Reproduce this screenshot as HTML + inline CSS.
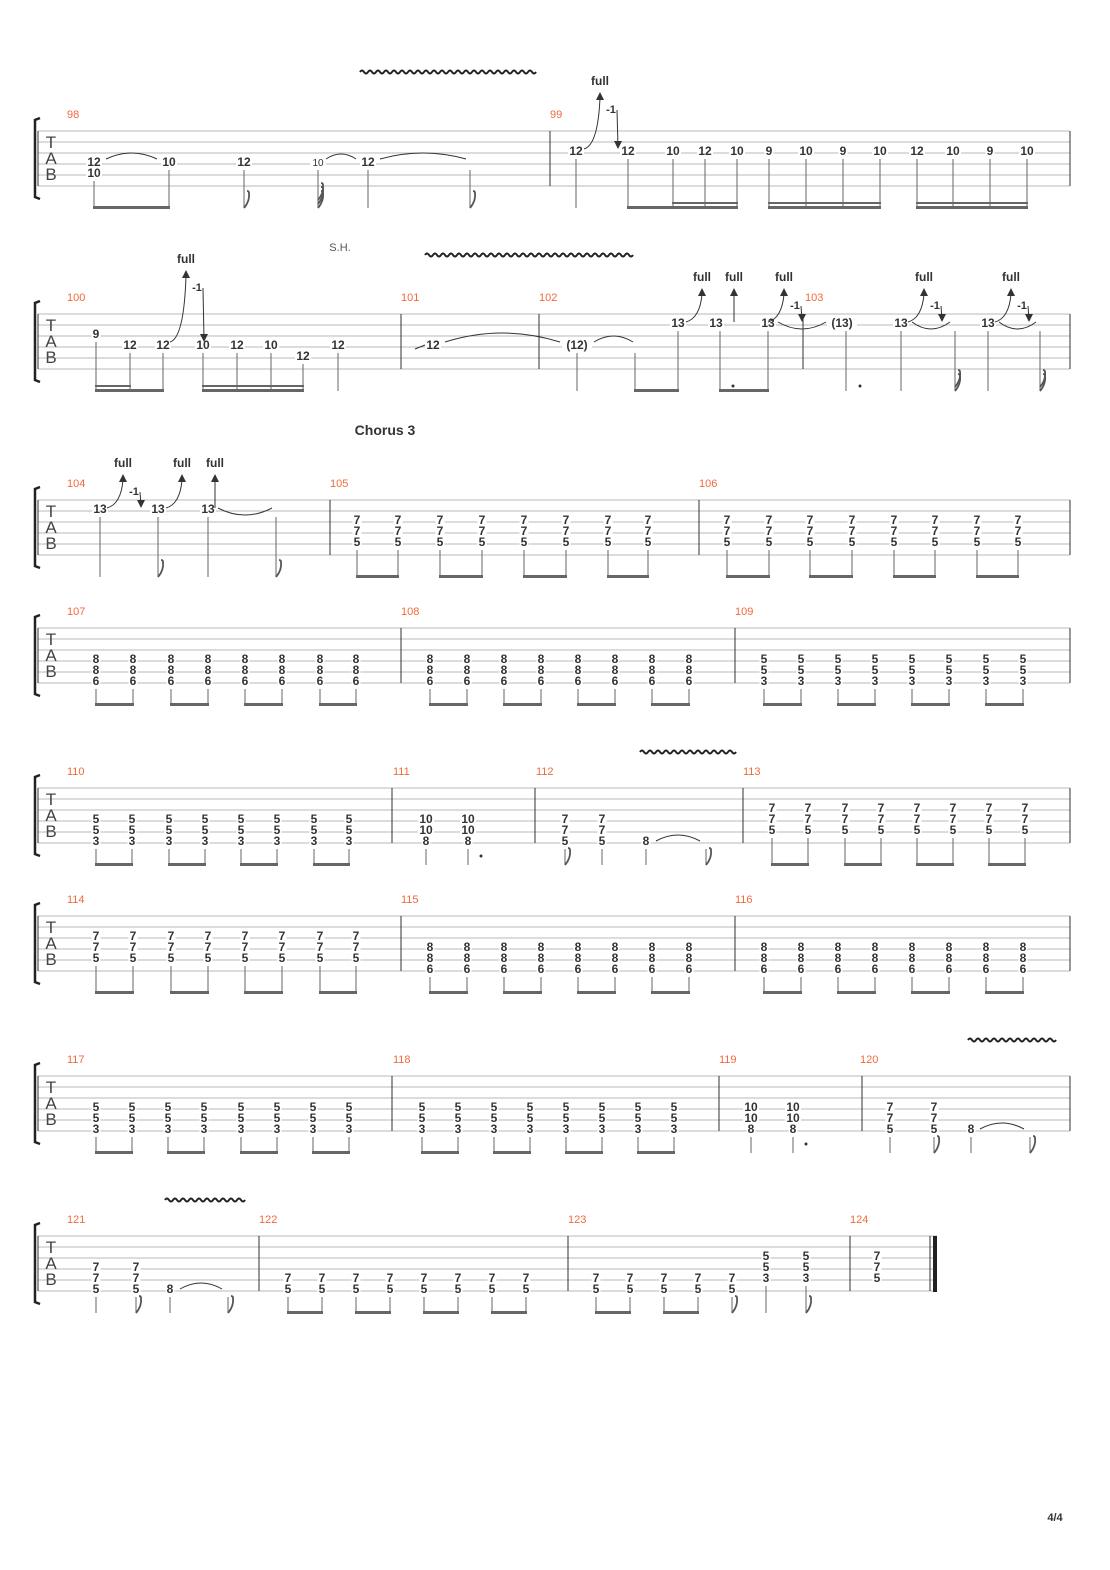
<!DOCTYPE html><html><head><meta charset="utf-8"><style>body{margin:0;background:#fff}svg{display:block}</style></head><body>
<svg id="s" width="1110" height="1570" xmlns="http://www.w3.org/2000/svg" font-family="Liberation Sans, DejaVu Sans, sans-serif"></svg>
<script>
const o=[];
function L(a,b,c,d,col,w){o.push(`<line x1="${a}" y1="${b}" x2="${c}" y2="${d}" stroke="${col||'#333'}" stroke-width="${w||1}"/>`);}
function T(x,y,t,sz,col,wt,anc){o.push(`<text x="${x}" y="${y}" font-size="${sz}" fill="${col||'#333'}" font-weight="${wt||'normal'}" text-anchor="${anc||'middle'}">${t}</text>`);}
function staff(t,x2,bars,labels){
 for(let i=0;i<6;i++)L(38,t+i*11,x2,t+i*11,'#b8b8b8');
 bars.forEach(b=>L(b,t,b,t+55,'#333'));
 T(51,t+17,'T',17,'#444');T(51,t+33,'A',17,'#444');T(51,t+49,'B',17,'#444');
 o.push(`<path d="M40 ${t-13} L35 ${t-11} L35 ${t+66} L40 ${t+68}" fill="none" stroke="#222" stroke-width="2.5"/>`);
 labels.forEach(([x,n])=>T(x,t-13,n,11,'#f26a3a','normal','start'));
}
function N(x,t,s,txt,small){const y=t+(s-1)*11-2;const w=txt.length*7+2;o.push(`<rect x="${x-w/2}" y="${y-6}" width="${w}" height="11" fill="#fff"/>`);T(x,y+4,txt,small?10:12,'#333',small?'normal':'bold');}
function C(x,t,arr){arr.forEach(([s,v])=>N(x,t,s,v));}
function St(x,t,low){L(x,t+(low-1)*11+6,x,t+77,'#666');}
function B(x1,x2,t,n){o.push(`<rect x="${x1}" y="${t+75}" width="${x2-x1}" height="3" fill="#666"/>`);if(n==2)o.push(`<rect x="${x1}" y="${t+71}" width="${x2-x1}" height="2" fill="#666"/>`);}
function F(x,t){o.push(`<path d="M${x} ${t+77} Q${x+6} ${t+70} ${x+5} ${t+62} Q${x+5} ${t+60} ${x+3} ${t+60}" fill="none" stroke="#555" stroke-width="1.8"/>`);}
function slur(x1,x2,y,h){o.push(`<path d="M${x1} ${y} Q${(x1+x2)/2} ${y-(h||10)} ${x2} ${y}" fill="none" stroke="#333"/>`);}
function slurD(x1,x2,y){o.push(`<path d="M${x1} ${y} Q${(x1+x2)/2} ${y+14} ${x2} ${y}" fill="none" stroke="#333"/>`);}
function vib(x1,x2,y){let d=`M${x1} ${y}`;for(let x=x1;x<x2;x+=8)d+=` q2 -3 4 0 q2 3 4 0`;o.push(`<path d="${d}" fill="none" stroke="#222" stroke-width="2"/>`);}
function bend(x,y,topY,label,rel){o.push(`<path d="M${x} ${y} Q${x+14} ${y-4} ${x+16} ${topY+6}" fill="none" stroke="#333"/><path d="M${x+12} ${topY+8} L${x+16} ${topY} L${x+20} ${topY+8}Z" fill="#333"/>`);T(x+16,topY-7,'full',12,'#333','bold');
 if(rel){T(x+27,topY+21,'-1',11,'#333','bold');L(x+33,topY+18,x+34,y-2);o.push(`<path d="M${x+30} ${y-8} L${x+34} ${y} L${x+38} ${y-8}Z" fill="#333"/>`);}}
function up(x,y,topY){L(x,y,x,topY+6);o.push(`<path d="M${x-4} ${topY+8} L${x} ${topY} L${x+4} ${topY+8}Z" fill="#333"/>`);T(x,topY-7,'full',12,'#333','bold');}
function dot(x,y){o.push(`<circle cx="${x}" cy="${y}" r="1.5" fill="#333"/>`);}

let t=131;staff(t,1070,[38,550,1070],[[67,'98'],[550,'99']]);
vib(360,530,72);
N(94,t,4,'12');N(94,t,5,'10');N(169,t,4,'10');N(244,t,4,'12');N(318,t,4,'10',1);N(368,t,4,'12');
slur(106,157,t+28,12);slur(326,356,t+28,10);slur(380,466,t+28,12);
St(94,t,5);St(169,t,4);B(93,170,t,1);St(244,t,4);F(244,t);St(318,t,4);F(318,t);F(318,t-4);F(318,t-8);St(368,t,4);St(470,t,4);F(470,t);
N(576,t,3,'12');bend(584,t+18,t-39,'full',1);
[[628,'12'],[673,'10'],[705,'12'],[737,'10'],[769,'9'],[806,'10'],[843,'9'],[880,'10'],[917,'12'],[953,'10'],[990,'9'],[1027,'10']].forEach(([x,v])=>{N(x,t,3,v);St(x,t,3)});
St(576,t,3);B(627,738,t,1);B(672,738,t,2);B(768,881,t,2);B(916,1028,t,2);

t=314;staff(t,1070,[38,401,539,803,1070],[[67,'100'],[401,'101'],[539,'102'],[805,'103']]);
T(340,251,'S.H.',11,'#555');vib(425,630,255);
[[96,3,'9'],[130,4,'12'],[163,4,'12'],[203,4,'10'],[237,4,'12'],[271,4,'10'],[303,5,'12'],[338,4,'12']].forEach(([x,s,v])=>{N(x,t,s,v);St(x,t,s)});
B(95,164,t,1);B(95,131,t,2);B(202,304,t,2);bend(170,t+28,t-44,'full',1);
N(433,t,4,'12');o.push(`<path d="M415 ${t+35} L425 ${t+31}" stroke="#333"/>`);slur(445,560,t+28,18);
N(577,t,4,'(12)');St(577,t,4);slur(594,633,t+28,12);St(635,t,4);
N(678,t,2,'13');N(716,t,2,'13');N(768,t,2,'13');St(678,t,2);St(720,t,2);St(768,t,2);
B(634,679,t,1);B(719,769,t,1);dot(733,t+72);
bend(686,t+8,t-26,'full');up(734,t+8,t-26);bend(768,t+8,t-26,'full',1);slurD(778,826,t+8);
N(842,t,2,'(13)');St(846,t,2);dot(860,t+72);
N(901,t,2,'13');St(901,t,2);bend(908,t+8,t-26,'full',1);slurD(912,950,t+8);St(955,t,2);F(955,t);F(955,t-4);
N(988,t,2,'13');St(988,t,2);bend(995,t+8,t-26,'full',1);slurD(999,1036,t+8);St(1040,t,2);F(1040,t);F(1040,t-4);

t=500;staff(t,1070,[38,330,699,1070],[[67,'104'],[330,'105'],[699,'106']]);
T(385,435,'Chorus 3',14,'#333','bold');
N(100,t,2,'13');St(100,t,2);bend(107,t+8,t-26,'full',1);St(158,t,2);F(158,t);N(158,t,2,'13');
bend(166,t+8,t-26,'full');N(208,t,2,'13');St(208,t,2);up(215,t+8,t-26);slurD(218,272,t+8);St(276,t,2);F(276,t);
function row(xs,arr,tt,low){xs.forEach(x=>{C(x,tt,arr);St(x,tt,low)});for(let i=0;i<xs.length;i+=2)B(xs[i]-1,xs[i+1]+1,tt,1);}
const c775=[[3,'7'],[4,'7'],[5,'5']];
row([357,398,440,482,524,566,608,648],c775,t,5);row([727,769,810,852,894,935,977,1018],c775,t,5);

t=628;staff(t,1070,[38,401,735,1070],[[67,'107'],[401,'108'],[735,'109']]);
const c886=[[4,'8'],[5,'8'],[6,'6']],c553=[[4,'5'],[5,'5'],[6,'3']];
const xa=[96,133,171,208,245,282,320,356],xb=[430,467,504,541,578,615,652,689],xc=[764,801,838,875,912,949,986,1023];
row(xa,c886,t,6);row(xb,c886,t,6);row(xc,c553,t,6);

t=788;staff(t,1070,[38,392,535,743,1070],[[67,'110'],[393,'111'],[536,'112'],[743,'113']]);
row([96,132,169,205,241,277,314,349],c553,t,6);
[426,468].forEach(x=>{C(x,t,[[4,'10'],[5,'10'],[6,'8']]);St(x,t,6)});dot(481,t+68);
vib(640,730,752);
[565,602].forEach(x=>{C(x,t,[[4,'7'],[5,'7'],[6,'5']]);St(x,t,6)});F(565,t);
N(646,t,6,'8');St(646,t,6);slur(656,700,t+53,12);St(706,t,6);F(706,t);
row([772,808,845,881,917,953,989,1025],c775,t,5);

t=916;staff(t,1070,[38,401,735,1070],[[67,'114'],[401,'115'],[735,'116']]);
row(xa,c775,t,5);row(xb,c886,t,6);row(xc,c886,t,6);

t=1076;staff(t,1070,[38,392,719,862,1070],[[67,'117'],[393,'118'],[719,'119'],[860,'120']]);
row([96,132,168,204,241,277,313,349],c553,t,6);row([422,458,494,530,566,602,638,674],c553,t,6);
[751,793].forEach(x=>{C(x,t,[[4,'10'],[5,'10'],[6,'8']]);St(x,t,6)});dot(806,t+68);
vib(968,1053,1040);
[890,934].forEach(x=>{C(x,t,[[4,'7'],[5,'7'],[6,'5']]);St(x,t,6)});F(934,t);
N(971,t,6,'8');St(971,t,6);slur(980,1024,t+53,12);St(1030,t,6);F(1030,t);

t=1236;staff(t,937,[38,259,568,850,930],[[67,'121'],[259,'122'],[568,'123'],[850,'124']]);
o.push(`<rect x="933" y="${t}" width="4" height="56" fill="#222"/>`);
[96,136].forEach(x=>{C(x,t,[[4,'7'],[5,'7'],[6,'5']]);St(x,t,6)});F(136,t);
vib(165,240,1200);N(170,t,6,'8');St(170,t,6);slur(180,222,t+53,12);St(228,t,6);F(228,t);
const c75=[[5,'7'],[6,'5']];
row([288,322,356,390,424,458,492,526],c75,t,6);
row([596,630,664,698],c75,t,6);C(732,t,c75);St(732,t,6);F(732,t);
[766,806].forEach(x=>{C(x,t,[[3,'5'],[4,'5'],[5,'3']]);St(x,t,5)});F(806,t);
C(877,t,[[3,'7'],[4,'7'],[5,'5']]);
T(1055,1521,'4/4',11,'#333','bold');
document.getElementById('s').innerHTML=o.join('');
</script>
</body></html>
